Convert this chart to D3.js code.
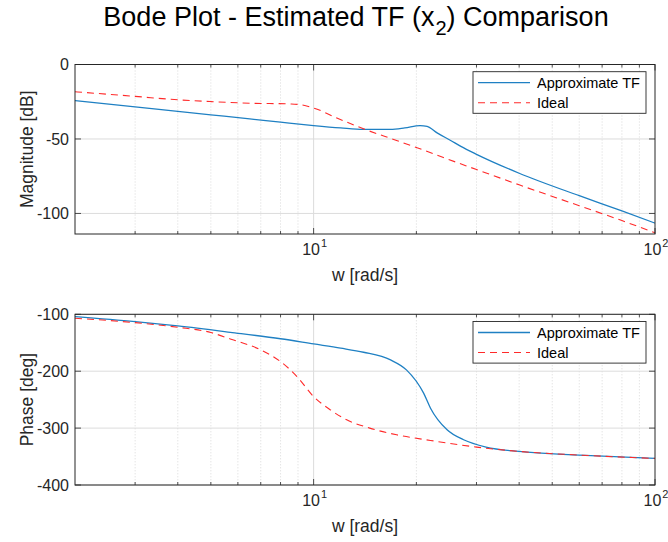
<!DOCTYPE html>
<html>
<head>
<meta charset="utf-8">
<script src="https://cdn.jsdelivr.net/npm/d3@7"></script>
<style>
  html, body { margin: 0; padding: 0; background: #fff; }
  svg { display: block; font-family: Arial, "Liberation Sans", Helvetica, sans-serif; }
</style>
</head>
<body>
<svg id="chart" width="668" height="542"></svg>
<script>
// ---------------- data ----------------
const magApproxW  = [2, 3, 4, 5, 6.5, 8, 10, 12, 14, 16.8, 18.5, 20.5, 21.5, 23, 25.2, 27, 30, 40, 60, 80, 100];
const magApproxDb = [-24.3, -28.5, -31.5, -33.8, -36.5, -38.7, -41, -42.6, -43.6, -43.6, -42.6, -41.0, -41.5, -45.9, -51, -55, -60.3, -73, -88.1, -98.3, -106.5];

const magIdealW  = [2, 3, 4, 5, 6.5, 8.6, 9.15, 10, 11.7, 14, 17.5, 21, 24, 30, 40, 60, 80, 100];
const magIdealDb = [-18.3, -21.4, -23.7, -24.9, -26.0, -26.5, -27, -29.2, -35.9, -43.2, -51, -57.5, -62.5, -70.5, -80.8, -94.8, -104.8, -113];

const phApproxW   = [2, 3, 4, 5.7, 8, 10, 12, 14, 16.8, 18.7, 21, 22, 24.6, 27.5, 32, 40, 60, 100];
const phApproxDeg = [-104.2, -113, -120.5, -131.6, -143, -152.1, -159.5, -166.7, -180.2, -197.7, -238.6, -265, -303, -320.5, -333.4, -341, -347.4, -353.3];

const phIdealW   = [2, 3, 4, 5, 5.7, 7, 8, 8.94, 10, 11.2, 12.5, 14.6, 17.5, 22, 30, 40, 60, 100];
const phIdealDeg = [-107, -114.7, -122.8, -132, -143.3, -162.6, -183, -209.5, -244.6, -268, -285.4, -300, -311.8, -321.7, -333.4, -341, -347.4, -353.3];

const seriesNames = ["Approximate TF", "Ideal"];
const magTicks = [-100, -50, 0];
const phaseTicks = [-400, -300, -200, -100];
const xMajorTicks = [10, 100];
const xMinorTicks = [3, 4, 5, 6, 7, 8, 9, 20, 30, 40, 50, 60, 70, 80, 90];

// ---------------- drawing ----------------
const svg = d3.select("#chart");
const W = 668, H = 542;
svg.append("rect").attr("width", W).attr("height", H).attr("fill", "#fff");

const axCol = "#262626";
const blue = "#1f80c3";
const red = "#ff2a2a";

const x = d3.scaleLog().domain([2, 100]).range([75, 655]);

function panel(opts) {
  const g = svg.append("g");
  const y = d3.scaleLinear().domain(opts.yDomain).range([opts.bottom, opts.top]);
  const [x0, x1] = x.range();
  const top = opts.top, bottom = opts.bottom;

  // minor x grid (dotted)
  g.selectAll(".mgx").data(xMinorTicks).enter().append("line")
    .attr("x1", d => x(d)).attr("x2", d => x(d))
    .attr("y1", top).attr("y2", bottom)
    .attr("stroke", "#cfcfcf").attr("stroke-width", 0.8)
    .attr("stroke-dasharray", "1,2");
  // major x grid
  g.selectAll(".Mgx").data(xMajorTicks.filter(d => d < 100)).enter().append("line")
    .attr("x1", d => x(d)).attr("x2", d => x(d))
    .attr("y1", top).attr("y2", bottom)
    .attr("stroke", "#dcdcdc").attr("stroke-width", 1);
  // major y grid
  g.selectAll(".gy").data(opts.yTicks).enter().append("line")
    .attr("x1", x0).attr("x2", x1)
    .attr("y1", d => y(d)).attr("y2", d => y(d))
    .attr("stroke", "#dcdcdc").attr("stroke-width", 1);

  // lines
  const clipId = "clip" + opts.id;
  svg.append("clipPath").attr("id", clipId).append("rect")
    .attr("x", x0).attr("y", top).attr("width", x1 - x0).attr("height", bottom - top);
  const line = d3.line().x(d => x(d[0])).y(d => y(d[1])).curve(d3.curveMonotoneX);
  const lg = g.append("g").attr("clip-path", `url(#${clipId})`);
  lg.append("path").datum(d3.zip(opts.aW, opts.aV))
    .attr("d", line).attr("fill", "none").attr("stroke", blue).attr("stroke-width", 1.3);
  lg.append("path").datum(d3.zip(opts.iW, opts.iV))
    .attr("d", line).attr("fill", "none").attr("stroke", red).attr("stroke-width", 1.1)
    .attr("stroke-dasharray", "7,5");

  // axes box
  g.append("rect").attr("x", x0).attr("y", top).attr("width", x1 - x0).attr("height", bottom - top)
    .attr("fill", "none").attr("stroke", axCol).attr("stroke-width", 1);

  // ticks (inside, both sides)
  const tk = g.append("g").attr("stroke", axCol).attr("stroke-width", 0.8);
  xMinorTicks.forEach(d => {
    tk.append("line").attr("x1", x(d)).attr("x2", x(d)).attr("y1", bottom).attr("y2", bottom - 3);
    tk.append("line").attr("x1", x(d)).attr("x2", x(d)).attr("y1", top).attr("y2", top + 3);
  });
  xMajorTicks.forEach(d => {
    tk.append("line").attr("x1", x(d)).attr("x2", x(d)).attr("y1", bottom).attr("y2", bottom - 6);
    tk.append("line").attr("x1", x(d)).attr("x2", x(d)).attr("y1", top).attr("y2", top + 6);
  });
  opts.yTicks.forEach(d => {
    tk.append("line").attr("x1", x0).attr("x2", x0 + 6).attr("y1", y(d)).attr("y2", y(d));
    tk.append("line").attr("x1", x1).attr("x2", x1 - 6).attr("y1", y(d)).attr("y2", y(d));
  });

  // y tick labels
  g.selectAll(".yl").data(opts.yTicks).enter().append("text")
    .attr("x", x0 - 6).attr("y", d => y(d)).attr("dy", "0.35em")
    .attr("text-anchor", "end").attr("font-size", 16).attr("fill", axCol)
    .text(d => d3.format("d")(d).replace("−", "-"));

  // x tick labels 10^n
  xMajorTicks.forEach(d => {
    const t = g.append("text").attr("x", x(d) + 1).attr("y", bottom + 21)
      .attr("text-anchor", "middle").attr("font-size", 16).attr("fill", axCol);
    t.append("tspan").text("10");
    t.append("tspan").attr("font-size", 11).attr("dy", -8).attr("dx", 1).text(String(Math.round(Math.log10(d))));
  });

  // x label
  g.append("text").attr("x", (x0 + x1) / 2).attr("y", bottom + 47)
    .attr("text-anchor", "middle").attr("font-size", 17.5).attr("fill", axCol)
    .text("w [rad/s]");

  // y label
  g.append("text")
    .attr("transform", `translate(33,${(top + bottom) / 2}) rotate(-90)`)
    .attr("text-anchor", "middle").attr("font-size", 17.5).attr("fill", axCol)
    .text(opts.yLabel);

  // legend
  const lx0 = 473, lx1 = 646, ly0 = top + 7.2, ly1 = top + 48.8;
  const leg = g.append("g");
  leg.append("rect").attr("x", lx0).attr("y", ly0).attr("width", lx1 - lx0).attr("height", ly1 - ly0)
    .attr("fill", "#fff").attr("stroke", axCol).attr("stroke-width", 0.9);
  seriesNames.forEach((name, i) => {
    const cy = ly0 + 11 + i * 20;
    leg.append("line").attr("x1", 478).attr("x2", 530).attr("y1", cy).attr("y2", cy)
      .attr("stroke", i === 0 ? blue : red).attr("stroke-width", i === 0 ? 1.3 : 1.1)
      .attr("stroke-dasharray", i === 0 ? null : "7,5");
    leg.append("text").attr("x", 537).attr("y", cy + 5.3)
      .attr("font-size", 14.5).attr("fill", "#000").text(name);
  });
}

panel({ id: 1, top: 64.5, bottom: 234, yDomain: [-113.8, 0], yTicks: magTicks,
        yLabel: "Magnitude [dB]", aW: magApproxW, aV: magApproxDb, iW: magIdealW, iV: magIdealDb });
panel({ id: 2, top: 314.3, bottom: 485, yDomain: [-400, -100], yTicks: phaseTicks,
        yLabel: "Phase [deg]", aW: phApproxW, aV: phApproxDeg, iW: phIdealW, iV: phIdealDeg });

// title
const title = svg.append("text").attr("x", 356).attr("y", 26)
  .attr("text-anchor", "middle").attr("font-size", 27).attr("fill", "#000");
title.append("tspan").text("Bode Plot - Estimated TF (x");
title.append("tspan").attr("font-size", 20).attr("dy", 9).attr("dx", 1).text("2");
title.append("tspan").attr("dy", -9).text(") Comparison");
</script>
</body>
</html>
